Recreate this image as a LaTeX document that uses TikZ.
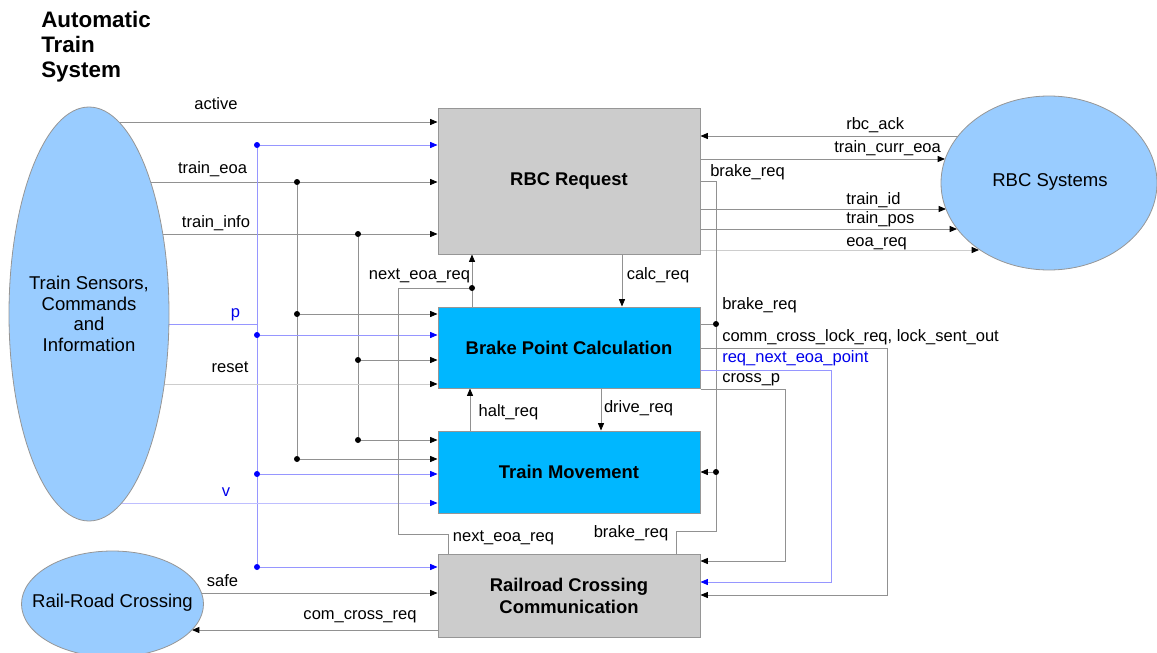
\documentclass[tikz,border=0pt]{standalone}
\usepackage{fontspec}
\setmainfont{Liberation Sans}
\usetikzlibrary{arrows.meta,shapes.geometric}
\pgfdeclarelayer{bg}
\pgfsetlayers{bg,main}
\definecolor{ln}{RGB}{145,145,145}
\definecolor{lnl}{RGB}{205,205,205}
\definecolor{bl}{RGB}{150,150,255}
\definecolor{bll}{RGB}{190,190,255}
\definecolor{boxgray}{RGB}{204,204,204}
\definecolor{cyanbox}{RGB}{0,183,255}
\definecolor{ellblue}{RGB}{153,204,255}
\definecolor{border}{RGB}{150,150,150}
\definecolor{lblblue}{RGB}{0,0,235}
\begin{document}
\begin{tikzpicture}[x=0.75pt,y=-0.75pt,
 conn/.style={draw=ln, line width=0.6pt},
 arr/.style={conn, -{Triangle[length=5.5pt,width=4.5pt,color=black]}},
 bconn/.style={draw=bl, line width=0.6pt},
 barr/.style={bconn, -{Triangle[length=5.5pt,width=4.5pt,color=blue]}},
 jdot/.style={circle, fill=black, inner sep=0pt, minimum size=4.5pt},
 bdot/.style={jdot, fill=blue},
 blk/.style={draw=border, line width=0.75pt, minimum width=196.5pt, inner sep=0pt, font=\fontsize{13.8}{16.5}\selectfont\bfseries, align=center},
 ell/.style={ellipse, draw=border, line width=0.6pt, fill=ellblue, inner sep=0pt},
 etxt/.style={inner sep=0pt, font=\fontsize{13.9}{15.5}\selectfont, align=center},
 lbl/.style={inner sep=0pt, font=\fontsize{12.4}{14}\selectfont, text height=9pt, text depth=2.6pt},
 ttl/.style={inner sep=0pt, anchor=base west, font=\fontsize{16.8}{19}\selectfont\bfseries}]
\useasboundingbox (0,0) rectangle (1157,653);

% title
\node[ttl] (t1) at (41,27) {Automatic};
\node[ttl] (t2) at (41,52) {Train};
\node[ttl] (t3) at (41,77) {System};

% ellipses
\node[ell, minimum width=120pt, minimum height=310.5pt] (sens) at (89,314) {};
\node[etxt] (senst) at (89,314) {Train Sensors,\\Commands\\and\\Information};
\node[ell, minimum width=136.5pt, minimum height=79.5pt] (rr) at (112.5,604) {};
\node[etxt] (rrt) at (112.5,603) {Rail-Road Crossing};
\node[ell, minimum width=162pt, minimum height=130.5pt] (rbcs) at (1049,183) {};
\node[etxt] (rbcst) at (1050,182) {RBC Systems};

% boxes
\node[blk, fill=boxgray, minimum height=109.5pt] (rbc) at (569,181) {RBC Request};
\node[blk, fill=cyanbox, minimum height=60.75pt] (bpc) at (569,347.5) {Brake Point Calculation};
\node[blk, fill=cyanbox, minimum height=61.5pt] (tm) at (569,472) {Train Movement};
\node[blk, fill=boxgray, minimum height=62.25pt] (rcc) at (569,595.5) {Railroad Crossing\\Communication};

% junctions
\node[bdot] (b1) at (257,145) {};
\node[bdot] (b2) at (257,335) {};
\node[bdot] (b3) at (257,474) {};
\node[bdot] (b4) at (257,567) {};
\coordinate (bp) at (257,324);
\node[jdot] (k1) at (297,182) {};
\node[jdot] (k2) at (297,314) {};
\node[jdot] (k3) at (297,459) {};
\node[jdot] (m1) at (358,234) {};
\node[jdot] (m2) at (358,360) {};
\node[jdot] (m3) at (358,440) {};
\node[jdot] (n1) at (472,288) {};
\node[jdot] (r1) at (716,324) {};
\node[jdot] (r2) at (716,472) {};
\coordinate (bq) at (716,531);
\coordinate (q1) at (398,534);
\coordinate (c1) at (887,595);
\coordinate (c2) at (831,582);
\coordinate (c3) at (785,561);
\coordinate (e1) at (945,159);
\coordinate (e2) at (946,209);
\coordinate (e3) at (957,229);
\coordinate (e4) at (979,250);
\coordinate (ccr) at (192,630);

\begin{pgfonlayer}{bg}
% left inputs
\draw[arr] (sens.center |- 0,122) -- (rbc.west |- 0,122);
\draw[barr] (b1) -- (rbc.west |- b1);
\draw[arr] (sens.center |- k1) -- (rbc.west |- k1);
\draw[arr] (sens.center |- m1) -- (rbc.west |- m1);
\draw[bconn] (sens.center |- bp) -- (bp);
\draw[bconn] (b1) -- (b4);
\draw[conn] (k1) -- (k3);
\draw[conn] (m1) -- (m3);
\draw[arr] (k2) -- (bpc.west |- k2);
\draw[barr] (b2) -- (bpc.west |- b2);
\draw[arr] (m2) -- (bpc.west |- m2);
\draw[arr, draw=lnl] (sens.center |- 0,384) -- (bpc.west |- 0,384);
\draw[arr] (m3) -- (tm.west |- m3);
\draw[arr] (k3) -- (tm.west |- k3);
\draw[barr] (b3) -- (tm.west |- b3);
\draw[barr, draw=bll] (sens.center |- 0,503) -- (tm.west |- 0,503);
\draw[barr] (b4) -- (rcc.west |- b4);
\draw[arr] (rr.center |- 0,593) -- (rcc.west |- 0,593);
\draw[arr] (rcc.west |- ccr) -- (ccr);
% right side
\draw[arr] (rbcs.center |- 0,136) -- (rbc.east |- 0,136);
\draw[arr] (rbc.east |- e1) -- (e1);
\draw[arr] (rbc.east |- e2) -- (e2);
\draw[arr] (rbc.east |- e3) -- (e3);
\draw[arr, draw=lnl] (rbc.east |- e4) -- (e4);
\draw[conn] (rbc.east |- 0,181) -| (bq) -| (rcc.north -| 676,0);
\draw[conn] (bpc.east |- r1) -- (r1);
\draw[arr] (r2) -- (tm.east |- r2);
\draw[arr] (bpc.east |- 0,348) -| (c1) -- (rcc.east |- c1);
\draw[barr] (bpc.east |- 0,370) -| (c2) -- (rcc.east |- c2);
\draw[arr] (bpc.east |- 0,389) -| (c3) -- (rcc.east |- c3);
% vertical links
\draw[arr] (bpc.north -| n1) -- (rbc.south -| n1);
\draw[conn] (rcc.north -| 448,0) |- (q1) |- (n1);
\draw[arr] (rbc.south -| 622,0) -- (bpc.north -| 622,0);
\draw[arr] (tm.north -| 470,0) -- (bpc.south -| 470,0);
\draw[arr] (bpc.south -| 601,0) -- (tm.north -| 601,0);
\end{pgfonlayer}

% labels
\node[lbl] (la) at (216,105) {active};
\node[lbl] (lb) at (212.5,169) {train\_eoa};
\node[lbl] (lc) at (216,223) {train\_info};
\node[lbl, text=lblblue] (ld) at (235.5,313) {p};
\node[lbl] (le) at (230,368.5) {reset};
\node[lbl, text=lblblue] (lf) at (226,492.5) {v};
\node[lbl] (lg) at (222.5,582.5) {safe};
\node[lbl] (lh) at (360,615.5) {com\_cross\_req};
\node[lbl] (li) at (419.5,275) {next\_eoa\_req};
\node[lbl] (lj) at (658,275) {calc\_req};
\node[lbl] (lk) at (508.5,412.5) {halt\_req};
\node[lbl] (ll) at (638.5,408.5) {drive\_req};
\node[lbl] (lm) at (503.5,537) {next\_eoa\_req};
\node[lbl] (ln) at (631,533.5) {brake\_req};
\node[lbl, anchor=west] (lo) at (846,125) {rbc\_ack};
\node[lbl, anchor=west] (lp) at (834,148) {train\_curr\_eoa};
\node[lbl, anchor=west] (lq) at (710,172) {brake\_req};
\node[lbl, anchor=west] (lr) at (846,200) {train\_id};
\node[lbl, anchor=west] (ls) at (846,219) {train\_pos};
\node[lbl, anchor=west] (lt) at (846,242) {eoa\_req};
\node[lbl, anchor=west] (lu) at (722,305) {brake\_req};
\node[lbl, anchor=west] (lv) at (722,337) {comm\_cross\_lock\_req, lock\_sent\_out};
\node[lbl, anchor=west, text=lblblue] (lw) at (722,358) {req\_next\_eoa\_point};
\node[lbl, anchor=west] (lx) at (722,378) {cross\_p};
\end{tikzpicture}
\end{document}
